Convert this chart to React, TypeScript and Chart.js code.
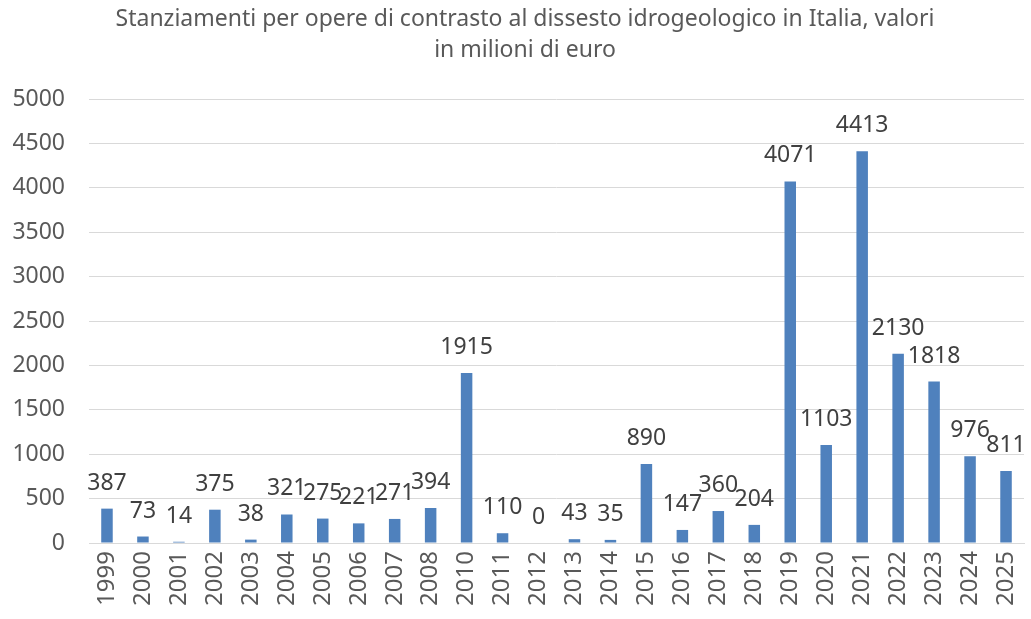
import React, { useEffect, useRef } from "react";
import { Chart, registerables } from "chart.js";

Chart.register(...registerables);

const years = [
  "1999", "2000", "2001", "2002", "2003", "2004", "2005", "2006", "2007", "2008",
  "2010", "2011", "2012", "2013", "2014", "2015", "2016", "2017", "2018", "2019",
  "2020", "2021", "2022", "2023", "2024", "2025",
];
const amounts = [
  387, 73, 14, 375, 38, 321, 275, 221, 271, 394,
  1915, 110, 0, 43, 35, 890, 147, 360, 204, 4071,
  1103, 4413, 2130, 1818, 976, 811,
];
const titleLines = [
  "Stanziamenti per opere di contrasto al dissesto idrogeologico in Italia, valori",
  "in milioni di euro",
];

const FONT = "'Noto Sans', 'Open Sans', sans-serif";

const labelsPlugin = {
  id: "barLabels",
  afterDatasetsDraw(chart: any) {
    const ctx = chart.ctx;
    const meta = chart.getDatasetMeta(0);
    ctx.save();
    ctx.fillStyle = "#404040";
    ctx.font = `23px ${FONT}`;
    ctx.textAlign = "center";
    ctx.textBaseline = "alphabetic";
    meta.data.forEach((el: any, i: number) => {
      ctx.fillText(String(amounts[i]), el.x, el.y - 19);
    });
    ctx.restore();
  },
};

const titlePlugin = {
  id: "customTitle",
  afterDraw(chart: any) {
    const ctx = chart.ctx;
    ctx.save();
    ctx.fillStyle = "#595959";
    ctx.font = `23px ${FONT}`;
    ctx.textAlign = "center";
    ctx.textBaseline = "middle";
    ctx.fillText(titleLines[0], 525, 19);
    ctx.fillText(titleLines[1], 525, 50);
    ctx.restore();
  },
};

export default function App() {
  const ref = useRef<HTMLCanvasElement | null>(null);
  useEffect(() => {
    if (!ref.current) return;
    const chart = new Chart(ref.current, {
      type: "bar",
      data: {
        labels: years,
        datasets: [
          {
            data: amounts,
            backgroundColor: "#4F81BD",
            categoryPercentage: 1,
            barPercentage: 0.32,
          },
        ],
      },
      options: {
        animation: false,
        responsive: false,
        maintainAspectRatio: false,
        layout: { padding: { top: 99, right: 7, left: 0, bottom: 0 } },
        plugins: {
          legend: { display: false },
          title: { display: false },
          tooltip: { enabled: false },
        },
        scales: {
          x: {
            grid: { display: false, drawTicks: false },
            border: { display: true, color: "#d9d9d9", width: 1 },
            ticks: {
              color: "#595959",
              font: { family: FONT, size: 24 },
              minRotation: 90,
              maxRotation: 90,
              autoSkip: false,
              padding: 8,
            },
            afterFit(scale: any) {
              scale.height = 76;
              scale.paddingLeft = 0;
              scale.paddingRight = 0;
            },
          },
          y: {
            min: 0,
            max: 5000,
            grid: { color: "#d9d9d9", lineWidth: 1, drawTicks: false },
            border: { display: false },
            ticks: {
              stepSize: 500,
              color: "#595959",
              font: { family: FONT, size: 23 },
              padding: 24,
              callback: (v: any) => String(v),
            },
            afterFit(scale: any) {
              scale.width = 89;
              scale.paddingTop = 0;
              scale.paddingBottom = 0;
            },
          },
        },
      },
      plugins: [labelsPlugin, titlePlugin],
    });
    return () => chart.destroy();
  }, []);
  return (
    <div style={{ position: "fixed", left: 0, top: 0, width: 1031, height: 619, background: "#fff" }}>
      <canvas ref={ref} width={1031} height={619} style={{ width: 1031, height: 619 }} />
    </div>
  );
}
